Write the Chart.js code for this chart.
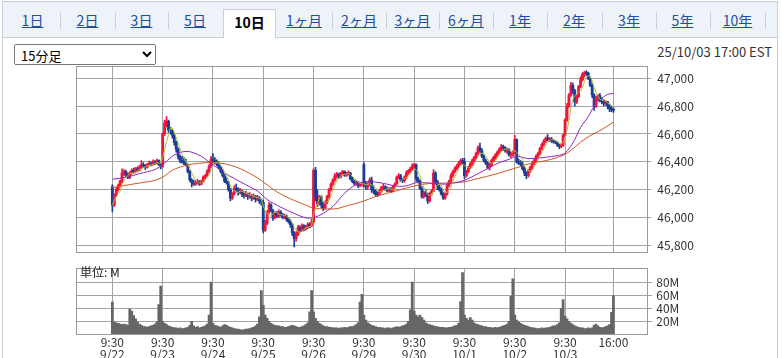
<!DOCTYPE html>
<html><head><meta charset="utf-8">
<script src="https://cdn.jsdelivr.net/npm/chart.js@4.4.0/dist/chart.umd.min.js"></script>
<style>
html,body{margin:0;padding:0;background:#fff;}
body{width:782px;height:358px;position:relative;overflow:hidden;font-family:"Noto Sans CJK JP","Noto Sans",sans-serif;}
#outer{position:absolute;left:2px;top:1px;width:776px;height:400px;border:1px solid #c9ced8;box-sizing:border-box;}
#tabbar{position:absolute;left:3px;top:2px;width:774px;height:35px;background:#eef2f9;border-bottom:1px solid #c9ced8;}
.tab{position:absolute;top:11px;width:54px;margin-left:-27px;text-align:center;font-size:14px;line-height:18px;color:#1d4fa3;text-decoration:underline;}
.sep{position:absolute;top:12px;width:1px;height:17px;background:#c9ced8;}
#active{position:absolute;left:223px;top:9px;width:53px;height:29px;background:#fff;border:1px solid #c9ced8;border-bottom:none;box-sizing:border-box;text-align:center;font-size:14px;font-weight:bold;line-height:24px;color:#000;}
#sel{position:absolute;left:14px;top:44px;width:142px;height:21px;font-size:13px;font-family:"Noto Sans CJK JP",sans-serif;padding:0 2px;}
#stamp{position:absolute;right:10px;top:43px;font-size:13px;color:#333;line-height:18px;}
#unit{position:absolute;left:80px;top:265px;font-size:12px;line-height:14px;color:#222;}
canvas{position:absolute;left:0;}
</style></head>
<body>
<div id="outer"></div>
<div id="tabbar"></div>
<div id="tabs"></div>
<select id="sel"><option>15分足</option></select>
<div id="stamp">25/10/03 17:00 EST</div>
<canvas id="price" width="782" height="210" style="top:54px"></canvas>
<canvas id="vol" width="782" height="100" style="top:258px"></canvas>
<div id="unit">単位: M</div>
<script>
// ---------- data ----------
const tabLabels = ["1日","2日","3日","5日","10日","1ヶ月","2ヶ月","3ヶ月","6ヶ月","1年","2年","3年","5年","10年"];
const activeTab = "10日";
const dayLabels = ["9/22","9/23","9/24","9/25","9/26","9/29","9/30","10/1","10/2","10/3"];
const sessionOpen = "9:30";
const sessionClose = "16:00";
const barsPerDay = 26;
const priceTicks = [45800,46000,46200,46400,46600,46800,47000];
const volumeTicks = [20,40,60,80];

const opens = [
46220,46090,46160,46200,46230,46260,46320,46330,46310,46290,46320,46340,46330,46350,46340,46360,46380,46370,46360,46380,46390,46380,46400,46390,46410,46380,
46370,46600,46680,46690,46630,46620,46590,46540,46490,46440,46410,46400,46390,46380,46330,46270,46250,46240,46250,46260,46240,46260,46290,46300,46330,46370,
46420,46410,46400,46380,46360,46330,46300,46260,46250,46200,46140,46170,46210,46200,46180,46190,46170,46160,46170,46150,46160,46140,46150,46130,46140,46120,
46110,45910,45960,46040,46090,46050,46000,46030,46010,46040,46020,46000,46010,45990,45970,45950,45890,45850,45880,45930,45910,45940,45920,45930,45950,45940,
45970,46340,46140,46100,46150,46090,46070,46110,46150,46200,46240,46270,46300,46310,46290,46315,46330,46305,46315,46320,46280,46260,46245,46255,46230,46240,
46380,46240,46220,46240,46270,46200,46190,46170,46165,46190,46215,46220,46205,46195,46205,46190,46220,46240,46290,46300,46270,46265,46290,46320,46335,46350,
46370,46380,46280,46260,46210,46150,46180,46170,46120,46170,46190,46320,46260,46220,46200,46170,46140,46170,46230,46260,46300,46330,46350,46370,46390,46410,
46400,46300,46330,46360,46385,46410,46430,46460,46500,46480,46440,46410,46390,46360,46380,46410,46430,46450,46470,46490,46510,46500,46480,46490,46450,46450,
46470,46560,46400,46390,46385,46350,46320,46300,46335,46360,46390,46410,46440,46460,46495,46525,46550,46570,46560,46565,46550,46545,46540,46520,46510,46520,
46590,46700,46800,46880,46950,46910,46830,46870,46940,46990,47030,47040,47035,47000,46950,46880,46800,46860,46875,46840,46830,46820,46830,46800,46780,46775];
const highs = [
46235,46170,46215,46240,46270,46350,46345,46340,46320,46330,46350,46355,46360,46365,46375,46410,46395,46380,46390,46405,46400,46415,46410,46420,46415,46390,
46610,46700,46725,46700,46650,46630,46600,46550,46500,46450,46440,46430,46420,46385,46340,46280,46270,46265,46275,46265,46270,46300,46310,46345,46380,46440,
46460,46430,46415,46400,46370,46345,46310,46285,46260,46210,46180,46230,46240,46215,46210,46200,46185,46190,46175,46180,46165,46170,46160,46160,46150,46135,
46125,45980,46050,46110,46100,46060,46040,46045,46055,46050,46030,46025,46020,46000,45985,45960,45900,45900,45945,45940,45955,45950,45945,45965,45960,45990,
46350,46360,46200,46160,46160,46110,46120,46160,46210,46250,46280,46315,46325,46320,46325,46340,46335,46325,46335,46325,46290,46270,46265,46260,46250,46255,
46395,46260,46250,46285,46290,46230,46200,46185,46200,46225,46240,46230,46220,46215,46215,46230,46250,46300,46315,46310,46280,46300,46335,46345,46360,46385,
46390,46385,46290,46270,46220,46190,46200,46175,46180,46200,46345,46330,46270,46235,46210,46180,46180,46240,46270,46315,46340,46365,46380,46400,46420,46425,
46425,46340,46370,46395,46420,46440,46470,46515,46535,46495,46450,46420,46400,46390,46420,46440,46460,46480,46500,46525,46520,46510,46500,46495,46470,46480,
46590,46565,46420,46410,46400,46360,46330,46345,46370,46400,46420,46450,46470,46505,46535,46560,46580,46595,46575,46575,46560,46555,46545,46530,46530,46600,
46710,46820,46890,46970,46965,46920,46880,46950,47010,47040,47050,47055,47045,47010,46960,46890,46870,46885,46890,46860,46845,46840,46835,46815,46800,46790];
const lows = [
46040,46080,46150,46190,46220,46250,46300,46290,46280,46280,46310,46320,46320,46330,46335,46350,46360,46345,46355,46370,46370,46375,46380,46385,46375,46350,
46360,46590,46650,46610,46600,46570,46520,46470,46420,46395,46390,46380,46370,46320,46260,46220,46230,46230,46240,46230,46235,46255,46280,46295,46320,46360,
46390,46385,46370,46350,46320,46290,46250,46240,46190,46120,46130,46160,46190,46160,46170,46150,46140,46150,46130,46140,46120,46130,46110,46120,46100,46090,
45890,45900,45950,46030,46040,45980,45990,46000,46000,46010,45990,45990,45975,45960,45930,45870,45790,45830,45870,45895,45900,45905,45910,45920,45925,45935,
45960,46120,46080,46090,46070,46050,46060,46100,46140,46190,46230,46260,46285,46280,46285,46305,46295,46295,46305,46270,46250,46235,46235,46215,46220,46225,
46220,46200,46200,46230,46180,46170,46155,46150,46160,46180,46200,46195,46185,46185,46180,46185,46210,46235,46280,46260,46250,46255,46280,46310,46325,46340,
46350,46260,46250,46200,46140,46140,46150,46100,46110,46160,46185,46240,46200,46190,46160,46130,46130,46160,46220,46250,46290,46320,46340,46360,46380,46380,
46280,46290,46320,46350,46375,46400,46420,46450,46470,46430,46400,46380,46350,46340,46370,46400,46420,46440,46460,46480,46480,46470,46460,46440,46430,46440,
46460,46390,46380,46370,46340,46300,46280,46290,46325,46350,46380,46400,46430,46450,46485,46515,46540,46550,46545,46540,46535,46530,46510,46495,46500,46510,
46580,46690,46790,46870,46890,46800,46820,46860,46930,46980,47010,47020,46990,46940,46860,46770,46790,46840,46830,46815,46800,46805,46780,46760,46760,46755];
const closes = [
46090,46160,46200,46230,46260,46320,46330,46310,46290,46320,46340,46330,46350,46340,46360,46380,46370,46360,46380,46390,46380,46400,46390,46410,46380,46370,
46600,46680,46690,46630,46620,46590,46540,46490,46440,46410,46400,46390,46380,46330,46270,46250,46240,46250,46260,46240,46260,46290,46300,46330,46370,46420,
46410,46400,46380,46360,46330,46300,46260,46250,46200,46140,46170,46210,46200,46180,46190,46170,46160,46170,46150,46160,46140,46150,46130,46140,46120,46110,
45910,45960,46040,46090,46050,46000,46030,46010,46040,46020,46000,46010,45990,45970,45950,45890,45850,45880,45930,45910,45940,45920,45930,45950,45940,45970,
46340,46140,46100,46150,46090,46070,46110,46150,46200,46240,46270,46300,46310,46290,46315,46330,46305,46315,46320,46280,46260,46245,46255,46230,46240,46245,
46240,46220,46240,46270,46200,46190,46170,46165,46190,46215,46220,46205,46195,46205,46190,46220,46240,46290,46300,46270,46265,46290,46320,46335,46350,46370,
46380,46280,46260,46210,46150,46180,46170,46120,46170,46190,46320,46260,46220,46200,46170,46140,46170,46230,46260,46300,46330,46350,46370,46390,46410,46400,
46300,46330,46360,46385,46410,46430,46460,46500,46480,46440,46410,46390,46360,46380,46410,46430,46450,46470,46490,46510,46500,46480,46490,46450,46450,46470,
46560,46400,46390,46385,46350,46320,46300,46335,46360,46390,46410,46440,46460,46495,46525,46550,46570,46560,46565,46550,46545,46540,46520,46510,46520,46590,
46700,46800,46880,46950,46910,46830,46870,46940,46990,47030,47040,47035,47000,46950,46880,46800,46860,46875,46840,46830,46820,46830,46800,46780,46775,46770];
// volume, millions
const volumes = [
50,19,18,17,16,15,16,15,14,39,36,29,24,19,16,14,12,12,11,12,13,14,16,19,46,75,
20,17,15,13,12,11,10,10,9,10,9,9,10,11,14,20,13,11,12,10,11,12,13,16,30,81,
17,14,13,12,11,13,15,14,12,11,10,9,8,8,7,7,7,8,8,9,10,11,13,16,27,68,
45,30,25,20,17,15,14,13,13,12,12,11,11,12,13,14,13,12,11,11,12,13,15,18,35,68,
35,25,20,17,15,13,12,12,11,11,10,10,10,9,10,10,11,10,11,12,12,13,15,18,50,62,
30,22,18,16,14,13,12,11,11,10,10,9,10,10,9,10,11,12,11,12,13,14,16,20,38,81,
36,30,27,30,26,22,18,16,15,14,13,12,12,11,11,11,10,10,11,11,12,13,14,17,51,96,
30,25,22,26,22,18,16,15,14,13,12,12,11,11,10,10,11,10,11,12,13,14,16,20,59,86,
30,22,19,17,15,14,13,12,11,10,10,9,9,9,10,9,10,10,11,12,13,13,15,18,40,54,
28,24,20,17,15,13,12,11,10,10,9,9,10,9,10,14,16,13,11,10,11,12,13,15,34,60];
// medium moving average (purple): [bar, value]
const maMid = [[0,46275],[7,46290],[14,46315],[22,46345],[26,46380],[31,46440],[35,46468],[39,46475],[42,46465],[46,46440],[49,46410],[52,46380],[58,46320],[67,46250],[75,46190],[80,46130],[87,46075],[94,46030],[100,45998],[104,46000],[109,46030],[114,46080],[119,46160],[124,46220],[130,46255],[136,46255],[142,46240],[147,46225],[152,46228],[157,46250],[164,46248],[172,46240],[177,46250],[182,46268],[189,46315],[195,46360],[200,46395],[205,46418],[209,46440],[214,46425],[218,46424],[225,46435],[233,46455],[236,46494],[239,46560],[242,46647],[246,46725],[249,46800],[252,46845],[256,46885],[259,46890]];
// long moving average (orange): [bar, value]
const maLong = [[0,46215],[7,46232],[14,46248],[21,46264],[26,46290],[31,46340],[38,46375],[45,46390],[52,46395],[60,46380],[67,46345],[75,46285],[80,46235],[85,46185],[92,46135],[99,46095],[104,46068],[111,46062],[116,46064],[120,46080],[128,46110],[137,46155],[145,46185],[154,46220],[157,46230],[164,46245],[172,46248],[181,46255],[189,46280],[198,46312],[207,46350],[210,46362],[216,46388],[225,46412],[233,46447],[237,46482],[242,46541],[247,46588],[252,46624],[259,46685]];
const shortPeriod = 5;

// ---------- page ----------
const tabCenters = [32.5,87.5,141.5,195,247.5,304,359,412.5,466,520,574,629,682.5,737.5];
const tabsEl = document.getElementById('tabs');
tabLabels.forEach((t,i)=>{
  if (t === activeTab) {
    const a = document.createElement('div'); a.id='active'; a.textContent=t; tabsEl.appendChild(a);
  } else {
    const d = document.createElement('div'); d.className='tab'; d.style.left=tabCenters[i]+'px'; d.textContent=t; tabsEl.appendChild(d);
  }
  if (tabLabels[i] !== activeTab && tabLabels[i+1] !== activeTab) {
    const s = document.createElement('div'); s.className='sep';
    s.style.left = Math.round(tabCenters[i] + (i < tabLabels.length-1 ? (tabCenters[i+1]-tabCenters[i])/2 : 27)) + 'px';
    tabsEl.appendChild(s);
  }
});

// ---------- charts ----------
const N = closes.length;
const UP = '#f0143c', DOWN = '#1c3d95';
const idx = closes.map((_,i)=>i);
const candleColors = idx.map(i => closes[i] >= opens[i] ? UP : DOWN);
const bodies = idx.map(i => ({x:i, y:[opens[i], closes[i]]}));
const wicks = idx.map(i => ({x:i, y:[lows[i], highs[i]]}));
const maShort = idx.map(i => { const s = closes.slice(Math.max(0,i-shortPeriod+1), i+1); return {x:i, y:s.reduce((a,b)=>a+b,0)/s.length}; });
const dayTicks = dayLabels.map((_,d)=>d*barsPerDay).concat([N-1]);
const XMIN = -18.8, XMAX = 276.5;
const FONT = {family:'"Noto Sans CJK JP","Noto Sans",sans-serif', size:12, lineHeight:1};
const GRID = '#a3a3a3';

const framePlugin = {id:'frameBox', afterDraw(c){
  const a=c.chartArea, ctx=c.ctx; ctx.save(); ctx.strokeStyle='#999'; ctx.lineWidth=1;
  const l=Math.round(a.left)+0.5, t=Math.round(a.top)+0.5, r=Math.round(a.right)+0.5, b=Math.round(a.bottom)+0.5;
  ctx.strokeRect(l,t,r-l,b-t); ctx.restore();
}};

new Chart(document.getElementById('price'), {
  type:'bar',
  data:{datasets:[
    {type:'line', data:maShort, borderColor:'#a9c236', borderWidth:1, pointRadius:0, tension:0, order:0},
    {type:'line', data:maMid.map(p=>({x:p[0],y:p[1]})), borderColor:'#8e24c8', borderWidth:1, pointRadius:0, tension:0.3, order:1},
    {type:'line', data:maLong.map(p=>({x:p[0],y:p[1]})), borderColor:'#d4531f', borderWidth:1, pointRadius:0, tension:0.3, order:2},
    {data:bodies, backgroundColor:candleColors, barThickness:2.2, minBarLength:1, grouped:false, order:3},
    {data:wicks, backgroundColor:candleColors, barThickness:1, grouped:false, order:4}
  ]},
  options:{
    responsive:false, animation:false, devicePixelRatio:1,
    layout:{padding:{left:76, top:10.3, right:0, bottom:0}},
    plugins:{legend:{display:false}, tooltip:{enabled:false}},
    scales:{
      x:{type:'linear', min:XMIN, max:XMAX, offset:false,
         grid:{color:GRID, drawTicks:false, offset:false}, border:{display:false},
         ticks:{display:false},
         afterBuildTicks:s=>{s.ticks = dayTicks.map(v=>({value:v}));},
         afterFit:s=>{s.height = 10.7;}},
      y:{position:'right', min:45753, max:47088,
         grid:{color:GRID, tickLength:4}, border:{display:false},
         ticks:{color:'#333', font:FONT, padding:6, callback:v=>v.toLocaleString('en-US')},
         afterBuildTicks:s=>{s.ticks = priceTicks.map(v=>({value:v}));},
         afterFit:s=>{s.width = 134.7;}}
    }
  },
  plugins:[framePlugin]
});

new Chart(document.getElementById('vol'), {
  type:'bar',
  data:{datasets:[{data:idx.map(i=>({x:i,y:volumes[i]})), backgroundColor:'#666666', barThickness:2.1}]},
  options:{
    responsive:false, animation:false, devicePixelRatio:1,
    layout:{padding:{left:76, top:7.7, right:0, bottom:0}},
    plugins:{legend:{display:false}, tooltip:{enabled:false}},
    scales:{
      x:{type:'linear', min:XMIN, max:XMAX, offset:false,
         grid:{color:GRID, drawTicks:false, offset:false}, border:{display:false},
         ticks:{color:'#333', font:FONT, padding:1.7, autoSkip:false, maxRotation:0,
                callback:v => v === N-1 ? [sessionClose] : [sessionOpen, dayLabels[Math.round(v/barsPerDay)]]},
         afterBuildTicks:s=>{s.ticks = dayTicks.map(v=>({value:v}));},
         afterFit:s=>{s.height = 23.7;}},
      y:{position:'right', min:0, max:103,
         grid:{color:GRID, tickLength:5}, border:{display:false},
         ticks:{color:'#333', font:FONT, padding:4, callback:v=>v+'M'},
         afterBuildTicks:s=>{s.ticks = volumeTicks.map(v=>({value:v}));},
         afterFit:s=>{s.width = 134.7;}}
    }
  },
  plugins:[framePlugin]
});
</script>
</body></html>
